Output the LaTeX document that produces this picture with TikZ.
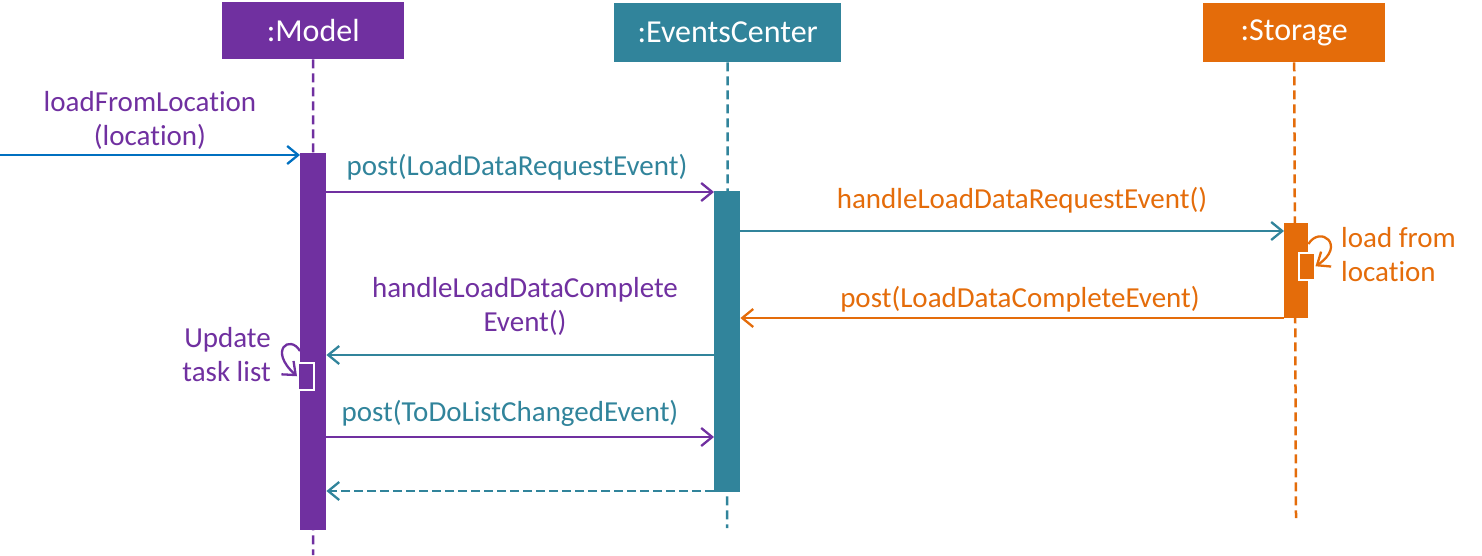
\documentclass[tikz,border=0pt]{standalone}
\usepackage{fontspec}
\setmainfont{Carlito}[Ligatures=NoCommon]
\usetikzlibrary{arrows.meta}
\definecolor{cpurple}{HTML}{7030A0}
\definecolor{cteal}{HTML}{31849B}
\definecolor{corange}{HTML}{E46C0A}
\definecolor{cblue}{HTML}{0070C0}
\tikzset{
  header/.style={fill=#1, text=white, inner sep=0pt, anchor=north west, font=\fontsize{32}{36}\selectfont},
  actbox/.style={fill=#1, inner sep=0pt, anchor=north west},
  selfbox/.style={fill=#1, draw=white, line width=1.5pt, inner sep=0pt, anchor=north west, minimum width=16pt, minimum height=27pt},
  lifeline/.style={draw=#1, line width=2.5pt, dash pattern=on 9pt off 5pt},
  msg/.style={draw=#1, line width=2.3pt, -{Straight Barb[length=11pt,width=18pt,line width=2.3pt]}},
  lbl/.style={text=#1, font=\fontsize{29}{34}\selectfont, inner sep=0pt, align=center},
}
\begin{document}
\begin{tikzpicture}[x=1pt,y=-1pt]
\useasboundingbox (0,0) rectangle (1482,555);
% headers
\node[header=cpurple, minimum width=182pt, minimum height=57pt] (model) at (222,2) {:Model};
\node[header=cteal, minimum width=227pt, minimum height=59pt] (ec) at (614,3) {:EventsCenter};
\node[header=corange, minimum width=182pt, minimum height=59pt] (st) at (1203,3) {:Storage};
% lifelines
\coordinate (mend) at (313,555);
\coordinate (ecend) at (727,528);
\coordinate (stend) at (1296,518);
\draw[lifeline=cpurple] (model.south) -- (mend);
\draw[lifeline=cteal] (ec.south) -- (ecend);
\draw[lifeline=corange] (st.south) -- (stend);
% activations
\node[actbox=cpurple, minimum width=26pt, minimum height=377pt] (mact) at (300,153) {};
\node[actbox=cteal, minimum width=26pt, minimum height=301pt] (ecact) at (714,191) {};
\node[actbox=corange, minimum width=24pt, minimum height=95pt] (stact) at (1284,223) {};
\node[selfbox=cpurple] (mself) at (297,362) {};
\node[selfbox=corange] (stself) at (1298,252) {};
% messages
\coordinate (start) at (0,155);
\draw[msg=cblue] (start) -- (mact.west |- start);
\node[lbl=cpurple] (l1) at (150,120) {loadFromLocation\\(location)};
\draw[msg=cpurple] (mact.east |- 0,192) -- (ecact.west |- 0,192);
\node[lbl=cteal] (l2) at (517,167) {post(LoadDataRequestEvent)};
\draw[msg=cteal] (ecact.east |- 0,231) -- (stact.west |- 0,231);
\node[lbl=corange] (l3) at (1022,200) {handleLoadDataRequestEvent()};
\draw[msg=corange] (stact.west |- 0,318) -- (ecact.east |- 0,318);
\node[lbl=corange] (l4) at (1020,299) {post(LoadDataCompleteEvent)};
\draw[msg=cteal] (ecact.west |- 0,355) -- (mact.east |- 0,355);
\node[lbl=cpurple] (l5) at (525,306) {handleLoadDataComplete\\Event()};
\draw[msg=cpurple] (mact.east |- 0,437) -- (ecact.west |- 0,437);
\node[lbl=cteal] (l6) at (510,413) {post(ToDoListChangedEvent)};
\draw[msg=cteal, dash pattern=on 9pt off 4pt] (ecact.west |- 0,491) -- (mact.east |- 0,491);
% self calls
\draw[msg=cpurple] (mact.west |- 0,351) .. controls (290,334) and (268,350) .. (mself.west);
\node[lbl=cpurple, align=right, anchor=east] (l7) at (271,355) {Update\\task list};
\draw[msg=corange] (stact.east |- 0,244) .. controls (1320,225) and (1347,245) .. (stself.east);
\node[lbl=corange, align=left, anchor=west] (l8) at (1341,255) {load from\\location};
\end{tikzpicture}
\end{document}
